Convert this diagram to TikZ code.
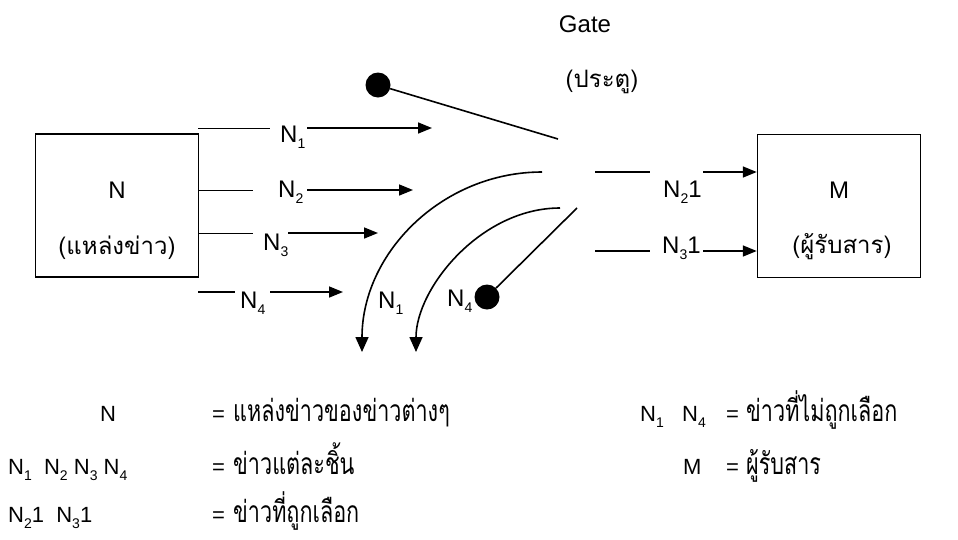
\documentclass[tikz,border=0pt]{standalone}
\usepackage{fontspec}
\setmainfont{Liberation Sans}
\newfontfamily\thaifont[Script=Thai]{Loma}
\usetikzlibrary{arrows.meta}
\newcommand{\nsb}[1]{\raisebox{-6pt}{\fontsize{14}{14}\selectfont #1}}
\newcommand{\thl}[1]{\scalebox{0.72}[1]{\thaifont\fontsize{30}{30}\selectfont #1}}
\begin{document}
\begin{tikzpicture}[x=1pt,y=-1pt,
  lbl/.style={inner sep=0pt, anchor=base west, font=\fontsize{24}{28}\selectfont},
  lg/.style={inner sep=0pt, anchor=base west, font=\fontsize{22}{26}\selectfont},
  ctr/.style={inner sep=0pt, font=\fontsize{24}{28}\selectfont},
  boxst/.style={draw, line width=1.5pt, minimum width=163pt, minimum height=143pt, inner sep=0pt},
  thinln/.style={line width=0.9pt},
  thickln/.style={line width=1.6pt},
  arr/.style={line width=1.6pt, -{Triangle[length=14pt,width=11pt]}},
  arrd/.style={line width=1.6pt, -{Triangle[length=15pt,width=13pt]}},
  dot/.style={circle, fill, inner sep=0pt, minimum size=25pt},
]
\useasboundingbox (0,0) rectangle (958,539);
% boxes
\node[boxst] (src) at (117,205.5) {};
\node[boxst] (dst) at (839,206) {};
\node[ctr] (srcN) at (117,190) {N};
\node[ctr] (srcT) at (117,248) {\thaifont (แหล่งข่าว)};
\node[ctr] (dstM) at (839,190) {M};
\node[ctr] (dstT) at (842,247) {\thaifont (ผู้รับสาร)};
% gate
\node[ctr, anchor=base] (gate) at (585,32) {Gate};
\node[ctr] (gateT) at (602,82) {\thaifont (ประตู)};
\node[dot] (g1) at (378,85) {};
\coordinate (g1e) at (558,139);
\draw[thickln] (g1) -- (g1e);
\node[dot] (g2) at (487,297) {};
\coordinate (g2e) at (577,208);
\draw[thickln] (g2) -- (g2e);
% left flows
\coordinate (a1) at (198,128); \coordinate (a1b) at (270,128);
\coordinate (a1c) at (307,128); \coordinate (a1d) at (432,128);
\draw[thinln] (a1) -- (a1b); \draw[arr] (a1c) -- (a1d);
\node[lbl] (l1) at (280,142) {N\nsb{1}};
\coordinate (a2) at (198,190); \coordinate (a2b) at (253,190);
\coordinate (a2c) at (307,190); \coordinate (a2d) at (413,190);
\draw[thinln] (a2) -- (a2b); \draw[arr] (a2c) -- (a2d);
\node[lbl] (l2) at (278,197) {N\nsb{2}};
\coordinate (a3) at (198,233); \coordinate (a3b) at (253,233);
\coordinate (a3c) at (288,233); \coordinate (a3d) at (378,233);
\draw[thinln] (a3) -- (a3b); \draw[arr] (a3c) -- (a3d);
\node[lbl] (l3) at (263,250) {N\nsb{3}};
\coordinate (a4) at (198,292); \coordinate (a4b) at (235,292);
\coordinate (a4c) at (270,292); \coordinate (a4d) at (343,292);
\draw[thickln] (a4) -- (a4b); \draw[arr] (a4c) -- (a4d);
\node[lbl] (l4) at (240,308) {N\nsb{4}};
% rejected
\coordinate (c1s) at (542,172); \coordinate (c1e) at (362,352);
\draw[arrd] (c1s) .. controls (442.6,172) and (362,252.6) .. (c1e);
\coordinate (c2s) at (560,208); \coordinate (c2e) at (416,352);
\draw[arrd] (c2s) .. controls (480.5,208) and (416,288.5) .. (c2e);
\node[lbl] (m1) at (378,308) {N\nsb{1}};
\node[lbl] (m4) at (447,306) {N\nsb{4}};
% right flows
\coordinate (b1) at (595,172); \coordinate (b1b) at (650,172); \coordinate (b1c) at (703,172);
\draw[thickln] (b1) -- (b1b); \draw[arr] (b1c) -- (b1c -| dst.west);
\node[lbl] (r1) at (663,197) {N\nsb{2}1};
\coordinate (b2) at (595,251); \coordinate (b2b) at (650,251); \coordinate (b2c) at (703,251);
\draw[thickln] (b2) -- (b2b); \draw[arr] (b2c) -- (b2c -| dst.west);
\node[lbl] (r2) at (662,253) {N\nsb{3}1};
% legend
\node[lg] (k1a) at (100,421) {N};
\node[lg] (k1b) at (212,421) {=};
\node[lg] (k1c) at (233,421) {\thl{แหล่งข่าวของข่าวต่างๆ}};
\node[lg] (k2a) at (8,474) {N\nsb{1}\ \ N\nsb{2} N\nsb{3} N\nsb{4}};
\node[lg] (k2b) at (212,474) {=};
\node[lg] (k2c) at (233,474) {\thl{ข่าวแต่ละชิ้น}};
\node[lg] (k3a) at (8,522) {N\nsb{2}1\ \ N\nsb{3}1};
\node[lg] (k3b) at (212,522) {=};
\node[lg] (k3c) at (233,522) {\thl{ข่าวที่ถูกเลือก}};
\node[lg] (k4a) at (640,421) {N\nsb{1}\ \ \ N\nsb{4}};
\node[lg] (k4b) at (726,421) {=};
\node[lg] (k4c) at (746,421) {\thl{ข่าวที่ไม่ถูกเลือก}};
\node[lg] (k5a) at (683,474) {M};
\node[lg] (k5b) at (726,474) {=};
\node[lg] (k5c) at (746,474) {\thl{ผู้รับสาร}};
\end{tikzpicture}
\end{document}
